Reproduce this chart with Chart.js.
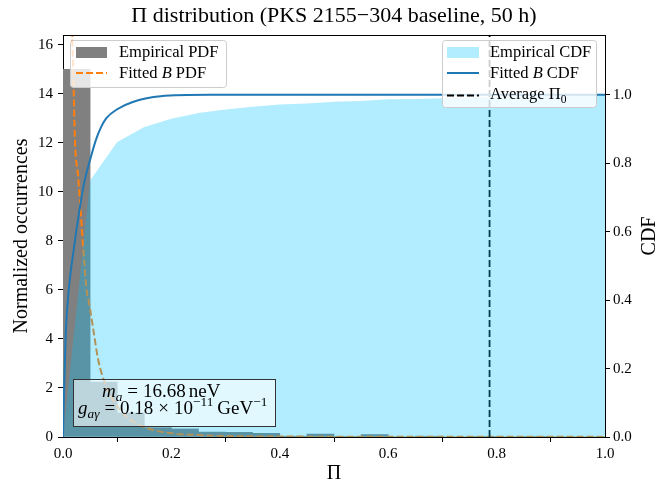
<!DOCTYPE html>
<html>
<head>
<meta charset="utf-8">
<script src="https://cdn.jsdelivr.net/npm/chart.js"></script>
<style>
html, body { margin: 0; padding: 0; background: #fff; }
</style>
</head>
<body>
<canvas id="chart" width="671" height="484"></canvas>
<script>
// histogram of Pi (bin edges, normalized density per bin)
const binEdges = [0, 0.05, 0.1, 0.15, 0.2, 0.25, 0.3, 0.35, 0.4, 0.45, 0.5,
                  0.55, 0.6, 0.65, 0.7, 0.75, 0.8, 0.85, 0.9, 0.95, 1.0];
const pdfDensity = [15.0, 2.24, 0.98, 0.38, 0.33, 0.2, 0.19, 0.15, 0.03, 0.12,
                    0.02, 0.1, 0.0, 0.03, 0.0, 0.02, 0.0, 0.02, 0.0, 0.0];
// empirical CDF at the bin edges
const cdfEmpirical = [0, 0.75, 0.862, 0.906, 0.93, 0.947, 0.957, 0.965, 0.972, 0.975, 0.98,
                      0.982, 0.987, 0.988, 0.99, 0.992, 0.994, 0.996, 0.997, 0.999, 1.0];
// fitted B distribution
const fitPdfX = [0.010, 0.017, 0.019, 0.022, 0.028, 0.0345, 0.039, 0.044, 0.047, 0.056, 0.065,
                 0.0775, 0.096, 0.1175, 0.148, 0.197, 0.25, 0.3, 0.4, 0.6, 1.0];
const fitPdfY = [26, 16.4, 14.86, 12.1, 10.6, 8.6, 7.2, 5.9, 5.6, 4.37, 3.14,
                 2.2, 1.39, 0.83, 0.42, 0.16, 0.08, 0.04, 0.02, 0.01, 0.005];
const fitCdfX = [0, 0.002, 0.005, 0.01, 0.02, 0.03, 0.04, 0.05, 0.06, 0.07, 0.08,
                 0.1, 0.13, 0.18, 0.27, 1.0];
const fitCdfY = [0, 0.14, 0.3, 0.42, 0.55, 0.66, 0.75, 0.81, 0.865, 0.905, 0.932,
                 0.958, 0.98, 0.996, 1.0, 1.0];
const avgPi0 = 0.787;

const xTicks = [0, 0.2, 0.4, 0.6, 0.8, 1.0];
const yMax = 16.4;
const cdfMax = 1.175;

const FONT = "'Liberation Serif', 'DejaVu Serif', serif";

const histData = pdfDensity.map((v, i) => ({ x: (binEdges[i] + binEdges[i + 1]) / 2, y: v }));
const cdfData = binEdges.map((e, i) => ({ x: e, y: cdfEmpirical[i] }));
const pdfFit = fitPdfX.map((x, i) => ({ x: x, y: fitPdfY[i] }));
const cdfFit = fitCdfX.map((x, i) => ({ x: x, y: fitCdfY[i] }));

// draws a run of text pieces; {gap} adds math spacing
function drawRich(ctx, segs, x, y, size) {
    let cx = x;
    segs.forEach(s => {
        if (s.gap) { cx += s.gap; return; }
        const sz = (s.sub || s.sup) ? size * 0.7 : size;
        ctx.font = (s.it ? 'italic ' : '') + sz + 'px ' + FONT;
        const dy = s.sub ? size * 0.22 : s.sup ? -size * 0.4 : 0;
        ctx.fillText(s.t, cx, y + dy);
        cx += ctx.measureText(s.t).width;
    });
    return cx - x;
}

function roundBox(ctx, x, y, w, h, r) {
    ctx.beginPath();
    ctx.moveTo(x + r, y);
    ctx.arcTo(x + w, y, x + w, y + h, r);
    ctx.arcTo(x + w, y + h, x, y + h, r);
    ctx.arcTo(x, y + h, x, y, r);
    ctx.arcTo(x, y, x + w, y, r);
    ctx.closePath();
}

const decorations = {
    id: 'decorations',
    afterDraw(chart) {
        const ctx = chart.ctx;
        const a = chart.chartArea;
        ctx.save();
        // top spine
        ctx.strokeStyle = '#000';
        ctx.lineWidth = 1;
        ctx.beginPath();
        ctx.moveTo(a.left, a.top + 0.5);
        ctx.lineTo(a.right, a.top + 0.5);
        ctx.stroke();

        ctx.fillStyle = '#000';
        ctx.textBaseline = 'middle';
        ctx.textAlign = 'center';
        // title
        ctx.font = '22px ' + FONT;
        ctx.fillText('\u03A0 distribution (PKS 2155\u2212304 baseline, 50 h)', (a.left + a.right) / 2, 16);
        // axis labels
        ctx.font = '20px ' + FONT;
        ctx.fillText('\u03A0', (a.left + a.right) / 2, 474);
        ctx.save();
        ctx.translate(22, (a.top + a.bottom) / 2);
        ctx.rotate(-Math.PI / 2);
        ctx.fillText('Normalized occurrences', 0, 0);
        ctx.restore();
        ctx.save();
        ctx.translate(650, (a.top + a.bottom) / 2);
        ctx.rotate(-Math.PI / 2);
        ctx.fillText('CDF', 0, 0);
        ctx.restore();

        ctx.textAlign = 'left';
        ctx.textBaseline = 'alphabetic';
        // left legend
        roundBox(ctx, 70.5, 40.5, 156, 47, 3);
        ctx.fillStyle = 'rgba(255,255,255,0.8)';
        ctx.fill();
        ctx.strokeStyle = '#cccccc';
        ctx.stroke();
        ctx.fillStyle = '#808080';
        ctx.fillRect(76, 47, 31, 11);
        ctx.strokeStyle = '#ff7f0e';
        ctx.lineWidth = 2;
        ctx.setLineDash([7, 3]);
        ctx.beginPath(); ctx.moveTo(76, 73); ctx.lineTo(107, 73); ctx.stroke();
        ctx.setLineDash([]);
        ctx.fillStyle = '#000';
        drawRich(ctx, [{ t: 'Empirical PDF' }], 119, 57, 16.5);
        drawRich(ctx, [{ t: 'Fitted ' }, { t: 'B', it: true }, { t: ' PDF' }], 119, 78, 16.5);

        // right legend
        ctx.lineWidth = 1;
        roundBox(ctx, 442.5, 40.5, 154, 67, 3);
        ctx.fillStyle = 'rgba(255,255,255,0.8)';
        ctx.fill();
        ctx.strokeStyle = '#cccccc';
        ctx.stroke();
        ctx.fillStyle = 'rgba(0,191,255,0.3)';
        ctx.fillRect(447, 47, 32, 11);
        ctx.strokeStyle = '#1f77b4';
        ctx.lineWidth = 2;
        ctx.beginPath(); ctx.moveTo(447, 73); ctx.lineTo(479, 73); ctx.stroke();
        ctx.strokeStyle = '#000';
        ctx.setLineDash([7, 3]);
        ctx.beginPath(); ctx.moveTo(447, 95.5); ctx.lineTo(479, 95.5); ctx.stroke();
        ctx.setLineDash([]);
        ctx.fillStyle = '#000';
        drawRich(ctx, [{ t: 'Empirical CDF' }], 490, 57, 16.5);
        drawRich(ctx, [{ t: 'Fitted ' }, { t: 'B', it: true }, { t: ' CDF' }], 490, 78, 16.5);
        drawRich(ctx, [{ t: 'Average \u03A0' }, { t: '0', sub: true }], 490, 99, 16.5);

        // parameter box
        ctx.lineWidth = 1;
        ctx.fillStyle = 'rgba(255,255,255,0.6)';
        ctx.fillRect(73.5, 379.5, 202, 47);
        ctx.strokeStyle = '#333';
        ctx.strokeRect(73.5, 379.5, 202, 47);
        ctx.fillStyle = '#000';
        drawRich(ctx, [{ t: 'm', it: true }, { t: 'a', it: true, sub: true }, { gap: 5 },
                       { t: '=' }, { gap: 5 }, { t: '16.68' }, { gap: 3 }, { t: 'neV' }], 102, 397, 19);
        drawRich(ctx, [{ t: 'g', it: true }, { t: 'a\u03B3', it: true, sub: true }, { gap: 5 },
                       { t: '=' }, { gap: 5 }, { t: '0.18' }, { gap: 5 }, { t: '\u00D7' }, { gap: 5 },
                       { t: '10' }, { t: '\u221211', sup: true }, { gap: 4 },
                       { t: 'GeV' }, { t: '\u22121', sup: true }], 78, 414, 19);
        ctx.restore();
    }
};

const tickFont = { family: FONT, size: 15 };

new Chart(document.getElementById('chart'), {
    type: 'line',
    data: {
        datasets: [
            {
                type: 'bar', label: 'Empirical PDF', data: histData, yAxisID: 'y',
                backgroundColor: '#808080', borderWidth: 0,
                barPercentage: 1, categoryPercentage: 1, order: 5
            },
            {
                label: 'Fitted B PDF', data: pdfFit, yAxisID: 'y',
                borderColor: '#ff7f0e', borderWidth: 2, borderDash: [7, 3],
                pointRadius: 0, fill: false, cubicInterpolationMode: 'monotone', order: 4
            },
            {
                label: 'Average Pi0', data: [{ x: avgPi0, y: 0 }, { x: avgPi0, y: cdfMax }], yAxisID: 'y1',
                borderColor: '#000', borderWidth: 1.8, borderDash: [7, 3],
                pointRadius: 0, fill: false, order: 3
            },
            {
                label: 'Empirical CDF', data: cdfData, yAxisID: 'y1',
                borderWidth: 0, borderColor: 'rgba(0,0,0,0)',
                backgroundColor: 'rgba(0,191,255,0.3)', fill: 'origin',
                pointRadius: 0, tension: 0, order: 2
            },
            {
                label: 'Fitted B CDF', data: cdfFit, yAxisID: 'y1',
                borderColor: '#1f77b4', borderWidth: 2,
                pointRadius: 0, fill: false, cubicInterpolationMode: 'monotone', order: 1
            }
        ]
    },
    options: {
        responsive: false,
        animation: false,
        events: [],
        layout: { padding: { top: 35, left: 0, right: 0, bottom: 0 } },
        plugins: { legend: { display: false }, tooltip: { enabled: false } },
        scales: {
            x: {
                type: 'linear', min: 0, max: 1, offset: false,
                afterFit: s => { s.height = 47; },
                afterBuildTicks: s => { s.ticks = xTicks.map(v => ({ value: v })); },
                ticks: { font: tickFont, color: '#000', padding: 3, maxRotation: 0,
                         callback: v => v.toFixed(1) },
                grid: { drawOnChartArea: false, tickLength: 5, tickColor: '#000' },
                border: { color: '#000', width: 1 }
            },
            y: {
                position: 'left', min: 0, max: yMax,
                afterFit: s => { s.width = 63; },
                ticks: { stepSize: 2, includeBounds: false, font: tickFont, color: '#000', padding: 5 },
                grid: { drawOnChartArea: false, tickLength: 5, tickColor: '#000' },
                border: { color: '#000', width: 1 }
            },
            y1: {
                position: 'right', min: 0, max: cdfMax,
                afterFit: s => { s.width = 66; },
                ticks: { stepSize: 0.2, includeBounds: false, font: tickFont, color: '#000', padding: 3,
                         callback: v => v.toFixed(1) },
                grid: { drawOnChartArea: false, tickLength: 5, tickColor: '#000' },
                border: { color: '#000', width: 1 }
            }
        }
    },
    plugins: [decorations]
});
</script>
</body>
</html>
